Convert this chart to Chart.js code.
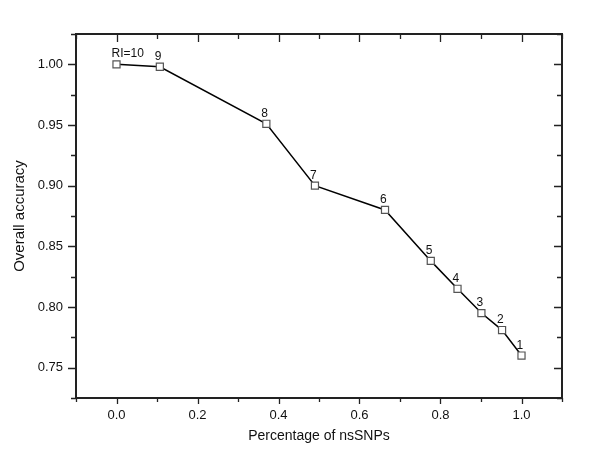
<!DOCTYPE html>
<html>
<head>
<meta charset="utf-8">
<script src="https://cdn.jsdelivr.net/npm/chart.js@4"></script>
<style>
  html, body { margin: 0; padding: 0; background: #fff; }
  #wrap { width: 600px; height: 450px; }
</style>
</head>
<body>
<div id="wrap"><canvas id="myChart" width="600" height="450"></canvas></div>
<script>
// values
const pctNsSNPs = [0.0, 0.107, 0.370, 0.490, 0.663, 0.776, 0.842, 0.901, 0.952, 1.0];
const accuracy = [1.000, 0.998, 0.951, 0.900, 0.880, 0.838, 0.815, 0.795, 0.781, 0.760];
const pointLabels = ['RI=10', '9', '8', '7', '6', '5', '4', '3', '2', '1'];
const xTicks = [0.0, 0.2, 0.4, 0.6, 0.8, 1.0];
const xMinor = [-0.1, 0.1, 0.3, 0.5, 0.7, 0.9, 1.1];
const yTicks = [0.75, 0.80, 0.85, 0.90, 0.95, 1.00];
const yMinor = [0.725, 0.775, 0.825, 0.875, 0.925, 0.975, 1.025];

const font = '"Liberation Sans", Arial, sans-serif';

// frame with ticks: bottom/left outward, top/right inward
const frame = {
    id: 'frame',
    afterDraw(chart) {
        const ctx = chart.ctx;
        const a = chart.chartArea;
        const xs = chart.scales.x, ys = chart.scales.y;
        ctx.save();
        ctx.strokeStyle = '#222';
        ctx.lineWidth = 2;
        ctx.strokeRect(a.left, a.top, a.right - a.left, a.bottom - a.top);
        ctx.lineWidth = 1.3;
        ctx.beginPath();
        function xt(v, lb, lt) {
            const p = Math.round(xs.getPixelForValue(v)) + 0.5;
            ctx.moveTo(p, a.bottom); ctx.lineTo(p, a.bottom + lb);
            ctx.moveTo(p, a.top); ctx.lineTo(p, a.top + lt);
        }
        function yt(v, ll, lr) {
            const p = Math.round(ys.getPixelForValue(v)) + 0.5;
            ctx.moveTo(a.left, p); ctx.lineTo(a.left - ll, p);
            ctx.moveTo(a.right, p); ctx.lineTo(a.right - lr, p);
        }
        xTicks.forEach(v => xt(v, 6, 8));
        xMinor.forEach(v => xt(v, 4, 5));
        yTicks.forEach(v => yt(v, 8, 8));
        yMinor.forEach(v => yt(v, 5, 5));
        ctx.stroke();

        // RI labels over the points
        const meta = chart.getDatasetMeta(0);
        ctx.fillStyle = '#111';
        ctx.font = '12px ' + font;
        ctx.textAlign = 'left';
        ctx.textBaseline = 'alphabetic';
        meta.data.forEach((pt, i) => {
            ctx.fillText(pointLabels[i], pt.x - 5, pt.y - 7);
        });
        ctx.restore();
    }
};

const ctx = document.getElementById('myChart').getContext('2d');
const myChart = new Chart(ctx, {
    type: 'scatter',
    data: {
        datasets: [{
            data: pctNsSNPs.map((x, i) => ({ x: x, y: accuracy[i] })),
            showLine: true,
            borderColor: '#000',
            borderWidth: 1.5,
            pointStyle: 'rect',
            pointRadius: 5,
            pointBorderWidth: 1.2,
            pointBorderColor: '#555',
            pointBackgroundColor: '#fff'
        }]
    },
    options: {
        responsive: false,
        animation: false,
        layout: { padding: { top: 34, right: 38, left: 0, bottom: 0 } },
        plugins: {
            legend: { display: false },
            tooltip: { enabled: false }
        },
        scales: {
            x: {
                type: 'linear',
                min: -0.1,
                max: 1.1,
                afterBuildTicks: s => { s.ticks = xTicks.map(v => ({ value: v })); },
                afterFit: s => { s.height = 52; },
                grid: { display: false, drawTicks: false },
                border: { display: false },
                ticks: {
                    padding: 10,
                    color: '#111',
                    font: { family: font, size: 13 },
                    callback: v => v.toFixed(1)
                },
                title: {
                    display: true,
                    text: 'Percentage of nsSNPs',
                    color: '#111',
                    font: { family: font, size: 14 },
                    padding: { top: 0, bottom: 5 }
                }
            },
            y: {
                type: 'linear',
                min: 0.725,
                max: 1.025,
                afterBuildTicks: s => { s.ticks = yTicks.map(v => ({ value: v })); },
                afterFit: s => { s.width = 76; },
                grid: { display: false, drawTicks: false },
                border: { display: false },
                ticks: {
                    padding: 13,
                    color: '#111',
                    font: { family: font, size: 13 },
                    callback: v => v.toFixed(2)
                },
                title: {
                    display: true,
                    text: 'Overall accuracy',
                    color: '#111',
                    font: { family: font, size: 15 },
                    padding: { top: 11, bottom: 0 }
                }
            }
        }
    },
    plugins: [frame]
});
</script>
</body>
</html>
